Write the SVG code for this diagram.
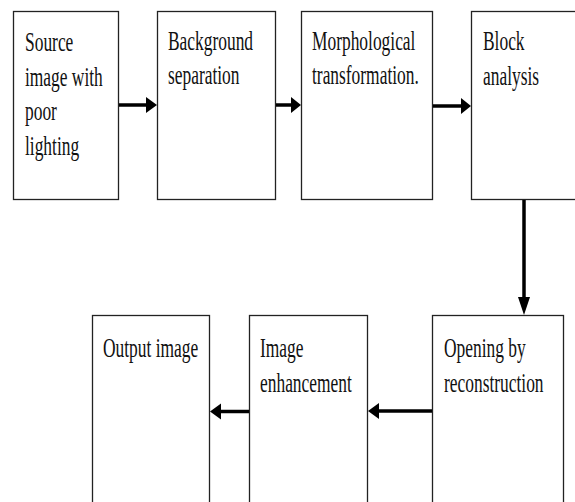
<svg xmlns="http://www.w3.org/2000/svg" width="575" height="502" viewBox="0 0 575 502">
<style>
.box{fill:#fff;stroke:#222;stroke-width:1.3}
.lbl{font-family:"Liberation Serif","Times New Roman",serif;font-size:27px;fill:#111}
.ln{stroke:#000;stroke-width:3.5;fill:none}
.hd{fill:#000}
</style>
<rect width="575" height="502" fill="#fff"/>
<g id="n1"><rect class="box" x="13.5" y="11.5" width="105" height="188"/>
<text class="lbl" transform="translate(25,0) scale(0.645,1)"><tspan x="0" y="51">Source</tspan><tspan x="0" y="86">image with</tspan><tspan x="0" y="120">poor</tspan><tspan x="0" y="155">lighting</tspan></text></g>
<g id="n2"><rect class="box" x="157.5" y="11.5" width="118" height="188"/>
<text class="lbl" transform="translate(168,0) scale(0.645,1)"><tspan x="0" y="50">Background</tspan><tspan x="0" y="84">separation</tspan></text></g>
<g id="n3"><rect class="box" x="301.5" y="11.5" width="131" height="188"/>
<text class="lbl" transform="translate(312,0) scale(0.645,1)"><tspan x="0" y="50">Morphological</tspan><tspan x="0" y="84">transformation.</tspan></text></g>
<g id="n4"><rect class="box" x="471.5" y="11.5" width="120" height="188"/>
<text class="lbl" transform="translate(483,0) scale(0.645,1)"><tspan x="0" y="50">Block</tspan><tspan x="0" y="85">analysis</tspan></text></g>
<g id="n5"><rect class="box" x="432.5" y="315.5" width="131" height="200"/>
<text class="lbl" transform="translate(444,0) scale(0.645,1)"><tspan x="0" y="357">Opening by</tspan><tspan x="0" y="392">reconstruction</tspan></text></g>
<g id="n6"><rect class="box" x="249.5" y="315.5" width="118" height="200"/>
<text class="lbl" transform="translate(260,0) scale(0.645,1)"><tspan x="0" y="357">Image</tspan><tspan x="0" y="392">enhancement</tspan></text></g>
<g id="n7"><rect class="box" x="92.5" y="315.5" width="117" height="200"/>
<text class="lbl" transform="translate(103,0) scale(0.645,1)"><tspan x="0" y="357">Output image</tspan></text></g>
<g id="connectors">
<line class="ln" x1="119" y1="105" x2="148" y2="105"/><polygon class="hd" points="146,97 157,105 146,113"/>
<line class="ln" x1="276" y1="105" x2="292" y2="105"/><polygon class="hd" points="291,97 301,105 291,113"/>
<line class="ln" x1="433" y1="106" x2="462" y2="106"/><polygon class="hd" points="461,98 471,106 461,114"/>
<line class="ln" x1="524" y1="200" x2="524" y2="300"/><polygon class="hd" points="518,297 530,297 524,315"/>
<line class="ln" x1="432" y1="411" x2="377" y2="411"/><polygon class="hd" points="379,403 368,411 379,419"/>
<line class="ln" x1="249" y1="411.5" x2="219" y2="411.5"/><polygon class="hd" points="221,403.5 210,411.5 221,419.5"/>
</g>
</svg>
